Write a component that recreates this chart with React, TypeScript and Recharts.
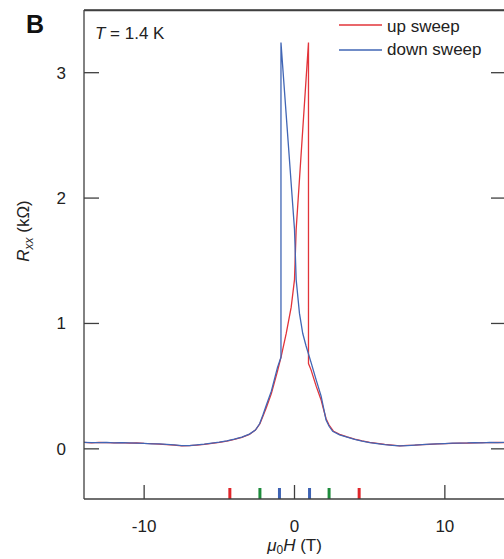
import React from 'react';
import { LineChart, Line, XAxis, YAxis, ReferenceLine, Label } from 'recharts';

// ---- data (field in T, Rxx in kOhm) ----
const upField = [
  -14, -13.5, -13, -12.5, -12, -11.5, -11, -10.5, -10, -9.5, -9, -8.5, -8, -7.5, -7, -6.5, -6, -5.5,
  -5, -4.5, -4, -3.5, -3, -2.6, -2.3, -2.1, -1.87, -1.54, -1.13, -0.88, -0.55, -0.22, 0, 0.11, 0.93,
  0.93, 1.1, 1.44, 1.77, 1.9, 2.1, 2.3, 2.6, 3, 3.5, 4, 4.5, 5, 5.5, 6, 6.5, 7, 7.5, 8, 8.5, 9, 9.5,
  10, 10.5, 11, 11.5, 12, 12.5, 13, 13.5, 14,
];
const upR = [
  0.052, 0.048, 0.051, 0.05, 0.047, 0.05, 0.046, 0.047, 0.043, 0.041, 0.038, 0.034, 0.03, 0.024, 0.026,
  0.03, 0.036, 0.044, 0.052, 0.062, 0.075, 0.092, 0.115, 0.15, 0.2, 0.26, 0.33, 0.44, 0.62, 0.74, 0.92,
  1.13, 1.35, 1.75, 3.24, 0.68, 0.63, 0.5, 0.39, 0.33, 0.24, 0.19, 0.14, 0.115, 0.095, 0.078, 0.064,
  0.052, 0.043, 0.035, 0.029, 0.024, 0.027, 0.029, 0.033, 0.036, 0.039, 0.041, 0.044, 0.046, 0.045,
  0.048, 0.05, 0.049, 0.052, 0.05,
];

const downField = [
  14, 13.5, 13, 12.5, 12, 11.5, 11, 10.5, 10, 9.5, 9, 8.5, 8, 7.5, 7, 6.5, 6, 5.5, 5, 4.5, 4, 3.5, 3,
  2.54, 2.3, 2.1, 1.77, 1.44, 1.1, 0.77, 0.55, 0.33, 0.11, 0, -0.9, -0.9, -1.13, -1.54, -1.87, -2.1,
  -2.32, -2.6, -3, -3.5, -4, -4.5, -5, -5.5, -6, -6.5, -7, -7.5, -8, -8.5, -9, -9.5, -10, -10.5, -11,
  -11.5, -12, -12.5, -13, -13.5, -14,
];
const downR = [
  0.051, 0.05, 0.052, 0.048, 0.05, 0.047, 0.046, 0.045, 0.042, 0.04, 0.037, 0.034, 0.03, 0.026, 0.023,
  0.028, 0.034, 0.042, 0.05, 0.062, 0.076, 0.094, 0.112, 0.14, 0.18, 0.23, 0.42, 0.55, 0.69, 0.82, 0.92,
  1.08, 1.35, 1.75, 3.24, 0.73, 0.65, 0.46, 0.35, 0.27, 0.2, 0.15, 0.118, 0.094, 0.077, 0.063, 0.053,
  0.045, 0.037, 0.031, 0.026, 0.025, 0.031, 0.035, 0.039, 0.04, 0.044, 0.046, 0.047, 0.049, 0.048,
  0.051, 0.05, 0.049, 0.051,
];

const xDomain = [-14, 14];
const yDomain = [-0.4, 3.5];
const xTicks = [-10, 0, 10];
const yTicks = [0, 1, 2, 3];

// coloured field markers along the bottom axis
const markerFields = [-4.3, -2.3, -1.0, 1.0, 2.3, 4.3];
const markerColors = ['#e0262b', '#1e8c3c', '#3d62b3', '#3d62b3', '#1e8c3c', '#e0262b'];

const upData = upField.map((f, i) => ({ field: f, r: upR[i] }));
const downData = downField.map((f, i) => ({ field: f, r: downR[i] }));

const FONT = '"Liberation Sans", Arial, Helvetica, sans-serif';
const AXIS = '#3f3f3f';
const INK = '#222';
const RED = '#e2343a';
const BLUE = '#4166b5';

const BottomTick = (props: any) => {
  const { x, y, payload } = props;
  return (
    <g>
      <line x1={x} x2={x} y1={y} y2={y - 14} stroke={AXIS} strokeWidth={1.3} />
      <text x={x} y={y + 33} textAnchor="middle" fontSize={17} fill={INK} fontFamily={FONT}>
        {payload.value}
      </text>
    </g>
  );
};

const LeftTick = (props: any) => {
  const { x, y, payload } = props;
  return (
    <g>
      <line x1={x} x2={x + 15} y1={y} y2={y} stroke={AXIS} strokeWidth={1.3} />
      <text x={x - 18} y={y + 6} textAnchor="end" fontSize={17} fill={INK} fontFamily={FONT}>
        {payload.value}
      </text>
    </g>
  );
};

const RightTick = (props: any) => {
  const { x, y } = props;
  return <line x1={x} x2={x - 14} y1={y} y2={y} stroke={AXIS} strokeWidth={1.3} />;
};

const markerShape = (color: string) => (p: any) => {
  const yb = Math.max(p.y1, p.y2);
  return <line x1={p.x1} x2={p.x1} y1={yb} y2={yb - 11} stroke={color} strokeWidth={3} />;
};

// top edge of the frame, drawn at the upper end of the y scale
const topFrame = (p: any) => (
  <line x1={p.x1} x2={p.x2} y1={p.y1} y2={p.y2} stroke={AXIS} strokeWidth={1.3} />
);

const YTitle = (props: any) => {
  const vb = props.viewBox || { x: 0, y: 10 };
  const cx = vb.x + 29;
  const cy = vb.y + 221;
  return (
    <text
      x={cx}
      y={cy}
      transform={`rotate(-90, ${cx}, ${cy})`}
      textAnchor="middle"
      fontSize={17}
      fill={INK}
      fontFamily={FONT}
    >
      <tspan fontStyle="italic">R</tspan>
      <tspan fontStyle="italic" fontSize={12} dy={4}>xx</tspan>
      <tspan dy={-4}> (kΩ)</tspan>
    </text>
  );
};

const XTitle = (props: any) => {
  const vb = props.viewBox || { x: 84, y: 499, width: 422 };
  const cx = vb.x + vb.width / 2;
  return (
    <text x={cx} y={vb.y + 52} textAnchor="middle" fontSize={17} fill={INK} fontFamily={FONT}>
      <tspan fontStyle="italic">μ</tspan>
      <tspan fontSize={12} dy={3}>0</tspan>
      <tspan fontStyle="italic" dy={-3}>H</tspan>
      <tspan> (T)</tspan>
    </text>
  );
};

export default function App() {
  return (
    <div
      style={{
        position: 'absolute',
        left: 0,
        top: 0,
        width: 504,
        height: 559,
        overflow: 'hidden',
        background: '#fff',
      }}
    >
      <LineChart width={510} height={559} margin={{ top: 10, right: 4, bottom: 0, left: 0 }}>
        <XAxis
          dataKey="field"
          type="number"
          domain={xDomain}
          ticks={xTicks}
          allowDataOverflow
          height={60}
          stroke={AXIS}
          strokeWidth={1.3}
          tickLine={false}
          tickSize={0}
          tickMargin={0}
          tick={<BottomTick />}
        >
          <Label content={<XTitle />} />
        </XAxis>
        <YAxis
          type="number"
          domain={yDomain}
          ticks={yTicks}
          allowDataOverflow
          width={84}
          stroke={AXIS}
          strokeWidth={1.3}
          tickLine={false}
          tickSize={0}
          tickMargin={0}
          tick={<LeftTick />}
        >
          <Label content={<YTitle />} />
        </YAxis>
        {/* right frame with inward ticks, same scale as the left axis */}
        <YAxis
          yAxisId="right"
          orientation="right"
          type="number"
          domain={yDomain}
          ticks={yTicks}
          allowDataOverflow
          width={1}
          stroke={AXIS}
          strokeWidth={1.3}
          tickLine={false}
          tickSize={0}
          tickMargin={0}
          tick={<RightTick />}
        />

        <ReferenceLine y={yDomain[1]} ifOverflow="visible" stroke={AXIS} shape={topFrame} />

        {markerFields.map((f, i) => (
          <ReferenceLine key={`m-${i}`} x={f} stroke="none" shape={markerShape(markerColors[i])} />
        ))}

        <Line
          data={upData}
          dataKey="r"
          type="linear"
          stroke={RED}
          strokeWidth={1.3}
          dot={false}
          isAnimationActive={false}
        />
        <Line
          data={downData}
          dataKey="r"
          yAxisId="right"
          type="linear"
          stroke={BLUE}
          strokeWidth={1.3}
          dot={false}
          isAnimationActive={false}
        />
      </LineChart>

      {/* panel letter, temperature, legend and the top edge of the frame */}
      <svg
        width={504}
        height={559}
        style={{ position: 'absolute', left: 0, top: 0, pointerEvents: 'none' }}
      >
        <line x1={84} x2={504} y1={10.5} y2={10.5} stroke={AXIS} strokeWidth={1.3} />
        <text x={26} y={33} fontSize={25} fontWeight="bold" fill="#111" fontFamily={FONT}>
          B
        </text>
        <text x={95} y={39} fontSize={17} fill={INK} fontFamily={FONT}>
          <tspan fontStyle="italic">T</tspan> = 1.4 K
        </text>
        <line x1={339} x2={382} y1={25} y2={25} stroke={RED} strokeWidth={1.3} />
        <text x={387} y={32} fontSize={17} fill={INK} fontFamily={FONT}>
          up sweep
        </text>
        <line x1={339} x2={382} y1={50} y2={50} stroke={BLUE} strokeWidth={1.3} />
        <text x={387} y={55} fontSize={17} fill={INK} fontFamily={FONT}>
          down sweep
        </text>
      </svg>
    </div>
  );
}
